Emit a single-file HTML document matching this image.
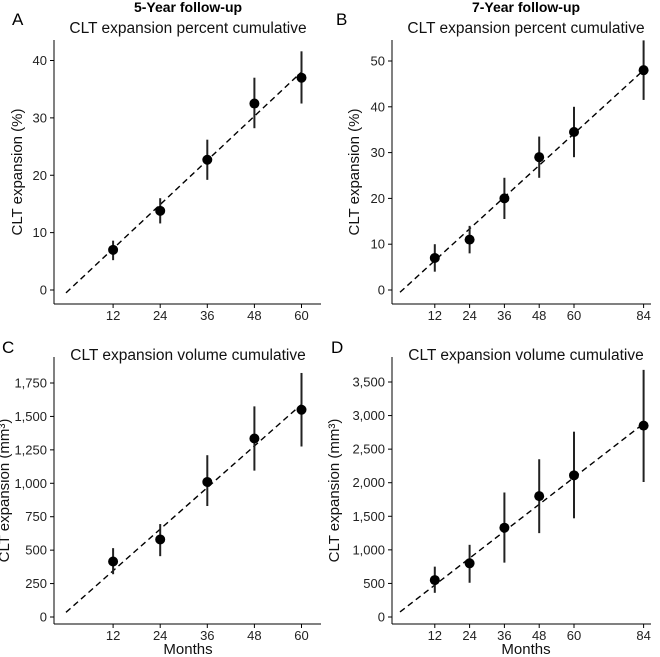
<!DOCTYPE html>
<html><head><meta charset="utf-8"><style>
html,body{margin:0;padding:0;background:#fff}
svg{display:block;font-family:"Liberation Sans","DejaVu Sans",sans-serif}
</style></head><body>
<svg id="c" width="660" height="657" viewBox="0 0 660 657"></svg>
<script>
const monthsA=[12,24,36,48,60];
const pctA=[7,13.8,22.7,32.5,37];
const pctALo=[5.2,11.6,19.2,28.2,32.5];
const pctAHi=[8.6,16,26.2,37,41.6];
const fitA=[-0.5,38];
const monthsB=[12,24,36,48,60,84];
const pctB=[7,11,20,29,34.5,48];
const pctBLo=[4,8,15.5,24.5,29,41.5];
const pctBHi=[10,14,24.5,33.5,40,54.5];
const fitB=[-0.5,48];
const volC=[415,580,1010,1335,1550];
const volCLo=[320,455,830,1095,1275];
const volCHi=[515,695,1210,1575,1825];
const fitC=[35,1590];
const volD=[550,800,1330,1800,2110,2850];
const volDLo=[360,510,810,1250,1470,2010];
const volDHi=[750,1075,1855,2350,2760,3680];
const fitD=[75,2880];
const ticksPct5=[0,10,20,30,40];
const ticksPct7=[0,10,20,30,40,50];
const ticksVol5=[0,250,500,750,1000,1250,1500,1750];
const ticksVol7=[0,500,1000,1500,2000,2500,3000,3500];

const svg=document.getElementById('c');
const NS='http://www.w3.org/2000/svg';
function mk(tag,attrs,parent,text){const e=document.createElementNS(NS,tag);for(const k in attrs)e.setAttribute(k,attrs[k]);if(text!==undefined)e.textContent=text;(parent||svg).appendChild(e);return e;}
function fmt(v){return v.toLocaleString('en-US');}

function panel(p){
  const g=mk('g',{});
  
  
  const xs=v=>p.x0+(v-0)*(p.x12-p.x0)/12;
  const ys=v=>p.yBase-(v)*(p.yBase-p.yTop)/p.yTopVal;
  const ya=mk('line',{x1:p.axL,y1:p.axT,x2:p.axL,y2:p.axB,stroke:'#000','stroke-width':1},g);
  
  const xa=mk('line',{x1:p.axL,y1:p.axB,x2:p.axR,y2:p.axB,stroke:'#000','stroke-width':1},g);
  
  p.yticks.forEach(t=>{
    const y=ys(t);
    mk('line',{x1:p.axL-4,y1:y,x2:p.axL,y2:y,stroke:'#000'},g);
    const tx=mk('text',{x:p.axL-7,y:y+4.5,'text-anchor':'end','font-size':13,fill:'#222'},g,fmt(t));
    
  });
  p.months.forEach(m=>{
    const x=xs(m);
    mk('line',{x1:x,y1:p.axB,x2:x,y2:p.axB+4,stroke:'#000'},g);
    const tx=mk('text',{x:x,y:p.axB+16,'text-anchor':'middle','font-size':13,fill:'#222'},g,m);
    
  });
  const last=p.months[p.months.length-1];
  const fl=mk('line',{x1:xs(0),y1:ys(p.fit[0]),x2:xs(last),y2:ys(p.fit[1]),stroke:'#000','stroke-width':1.4,'stroke-dasharray':'6,4'},g);
  
  p.months.forEach((m,i)=>{
    const x=xs(m);
    const eb=mk('line',{x1:x,y1:ys(p.lo[i]),x2:x,y2:ys(p.hi[i]),stroke:'#222','stroke-width':2},g);
    
    const c=mk('circle',{cx:x,cy:ys(p.vals[i]),r:5,fill:'#000'},g);
    
  });
  const lt=mk('text',{x:p.letterX,y:p.letterY,'font-size':17,fill:'#000'},g,p.id);
  
  const st=mk('text',{x:p.titleX,y:p.titleY,'text-anchor':'middle','font-size':15.5,fill:'#111'},g,p.title);
  
  const cy=(p.axT+p.axB)/2;
  const yt=mk('text',{x:p.ytX,y:cy,'text-anchor':'middle','font-size':15,fill:'#111',transform:'rotate(-90 '+p.ytX+' '+cy+')'},g,p.ytitle);
  
  if(p.xtitle){const xt=mk('text',{x:p.titleX,y:654,'text-anchor':'middle','font-size':15,fill:'#111'},g,'Months');
    }
}
const layLeft={x0:66,x12:113.1,axL:54,axR:321,titleX:188};
const layRight={x0:400,x12:434.8,axL:392,axR:651,titleX:526};
const layTop={axT:40,axB:304,yBase:290,letterY:25,titleY:33};
const layBot={axT:357,axB:624,yBase:617,letterY:353,titleY:360};
panel(Object.assign({id:'A',letterX:12,months:monthsA,vals:pctA,lo:pctALo,hi:pctAHi,fit:fitA,yticks:ticksPct5,yTopVal:40,yTop:60.5,title:'CLT expansion percent cumulative',ytitle:'CLT expansion (%)',ytX:22},layLeft,layTop));
panel(Object.assign({id:'B',letterX:336,months:monthsB,vals:pctB,lo:pctBLo,hi:pctBHi,fit:fitB,yticks:ticksPct7,yTopVal:50,yTop:61,title:'CLT expansion percent cumulative',ytitle:'CLT expansion (%)',ytX:359},layRight,layTop));
panel(Object.assign({id:'C',letterX:2,months:monthsA,vals:volC,lo:volCLo,hi:volCHi,fit:fitC,yticks:ticksVol5,yTopVal:1750,yTop:383,title:'CLT expansion volume cumulative',ytitle:'CLT expansion (mm³)',ytX:9,xtitle:true},layLeft,layBot));
panel(Object.assign({id:'D',letterX:331,months:monthsB,vals:volD,lo:volDLo,hi:volDHi,fit:fitD,yticks:ticksVol7,yTopVal:3500,yTop:382,title:'CLT expansion volume cumulative',ytitle:'CLT expansion (mm³)',ytX:339,xtitle:true},layRight,layBot));
const h1=mk('text',{x:188,y:12,'text-anchor':'middle','font-size':14,'font-weight':'bold'},svg,'5-Year follow-up');

const h2=mk('text',{x:526,y:12,'text-anchor':'middle','font-size':14,'font-weight':'bold'},svg,'7-Year follow-up');

</script>
</body></html>
